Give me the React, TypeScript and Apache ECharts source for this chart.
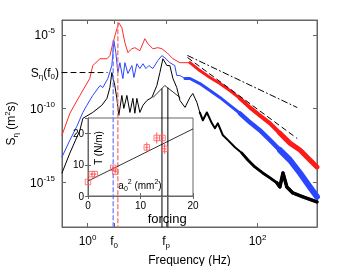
import React, { useEffect, useRef } from "react";
import * as echarts from "echarts";

const FONT = "Liberation Sans, Arial, Helvetica, sans-serif";

// ---- main spectra (frequency in Hz, PSD in m^2 s) ----
const redFreq = [0.5, 0.619, 0.812, 1.06, 1.15, 1.4, 1.69, 1.83, 1.99, 2.21, 2.33, 2.53, 2.75, 2.98, 3.32, 3.6, 4.12, 4.72, 5.12, 5.86, 6.71, 7.48, 8.57, 10.1, 12.2, 16.0, 20.9, 27.5, 36.0, 47.2, 61.9, 81.1, 106, 140, 183, 240, 315, 412, 499];
const redPsd = [1.6e-12, 4.9e-11, 7.9e-10, 1.1e-8, 8.3e-8, 2.4e-7, 2.4e-7, 3.9e-7, 2.9e-6, 2.5e-5, 6.5e-5, 3.0e-5, 2.9e-6, 6.2e-7, 1.14e-6, 1.34e-6, 8.4e-7, 5.4e-6, 2.5e-6, 1.14e-6, 1.34e-6, 1.14e-6, 6.2e-7, 2.4e-7, 1.3e-7, 1.3e-7, 3.8e-8, 1.3e-8, 5.0e-9, 1.7e-9, 5.0e-10, 1.23e-10, 3.55e-11, 1.03e-11, 2.2e-12, 4.7e-13, 1.6e-13, 3.4e-14, 1.15e-14];

const blueFreq = [0.5, 0.619, 0.748, 0.88, 0.98, 1.15, 1.4, 1.51, 1.73, 1.93, 2.04, 2.15, 2.27, 2.4, 2.6, 2.75, 2.98, 3.32, 3.51, 3.8, 4.12, 4.48, 4.85, 5.26, 5.86, 6.71, 7.48, 8.11, 9.29, 10.6, 11.2, 12.2, 14.0, 16.0, 20.9, 27.5, 36.0, 47.2, 61.9, 81.1, 106, 140, 183, 240, 315, 412, 499];
const bluePsd = [5.4e-14, 7.5e-13, 6.5e-12, 5.6e-11, 1.7e-10, 7.9e-10, 3.7e-9, 2.7e-9, 1.1e-8, 8.3e-8, 3.95e-6, 6.2e-7, 2.8e-8, 1.3e-7, 1.1e-8, 1.3e-7, 2.4e-8, 8.3e-8, 1.3e-8, 1.1e-7, 5.2e-8, 1.1e-7, 5.2e-8, 8.3e-8, 5.2e-8, 1.8e-7, 3.9e-7, 2.8e-7, 1.3e-7, 8.3e-8, 1.75e-8, 1.75e-8, 1.1e-8, 1.1e-8, 5.0e-9, 1.7e-9, 5.8e-10, 1.7e-10, 4.9e-11, 1.2e-11, 3.5e-12, 7.5e-13, 1.6e-13, 3.4e-14, 4.5e-15, 5.1e-16, 1.1e-16];

const blackFreq = [0.5, 0.619, 0.812, 0.88, 1.15, 1.47, 1.69, 1.83, 1.93, 2.09, 2.21, 2.33, 2.53, 2.67, 2.9, 3.15, 3.41, 3.6, 3.8, 4.12, 4.48, 4.99, 5.71, 6.53, 7.09, 7.69, 8.57, 9.29, 10.1, 11.2, 12.2, 14.0, 16.0, 17.3, 19.3, 20.9, 22.7, 25.3, 29.0, 31.5, 34.1, 39.1, 44.8, 54.1, 65.3, 76.9, 92.9, 115, 140, 169, 183, 199, 221, 260, 341, 499];
const blackPsd = [4.5e-15, 1.0e-13, 3.5e-12, 2.24e-11, 5.6e-11, 1.7e-10, 5.0e-10, 2.7e-9, 2.8e-8, 3.7e-9, 5.0e-10, 3.55e-11, 7.9e-10, 1.05e-10, 7.9e-10, 5.6e-11, 5.0e-10, 4.9e-11, 5.0e-10, 5.6e-11, 1.7e-10, 3.6e-10, 5.8e-10, 3.7e-9, 2.8e-8, 2.4e-7, 8.3e-8, 8.3e-8, 1.1e-8, 2.7e-9, 3.6e-10, 1.23e-10, 5.8e-10, 1.07e-9, 2.7e-10, 5.6e-11, 1.65e-11, 5.6e-11, 1.03e-11, 4.8e-12, 1.03e-11, 1.6e-12, 7.5e-13, 2.5e-13, 1.0e-13, 3.4e-14, 1.15e-14, 4.5e-15, 2.1e-15, 9.6e-16, 5.1e-16, 4.5e-15, 5.1e-16, 2.0e-16, 1.1e-16, 5.0e-17];

// ---- reference power laws and markers ----
const dashDotFreq = [15.1, 290];
const dashDotPsd = [3.9e-7, 1.23e-10];
const dashFreq = [15.1, 290];
const dashPsd = [2.8e-7, 1.0e-12];

const sEtaF0 = 2.8e-8;
const sEtaLineFreq = [0.5, 1.7];
const F0 = 2.05;
const FP = 8.4;
const blueDash = { f: 2.0, top: 3.95e-6 };
const redDash = { f: 2.27, top: 6.5e-5 };
const forcingFreq = [7.5, 8.8];
const forcingTop = [2.2e-9, 2.5e-9];
const tentFreq = [5.9, 8.1, 12.2];
const tentPsd = [5.8e-10, 3.7e-9, 5.8e-10];

const xTickValues = [1, F0, FP, 100];
const xTickLabels = ["{b|10}{s|0}", "{b|f}{u|0}", "{b|f}{u|p}", "{b|10}{s|2}"];
const yTickValues = [1e-15, 1e-10, 1e-5];

// ---- inset: T (N/m) vs a0^2 (mm^2) ----
const insetA2 = [0, 0.7, 1.3, 4.8, 5.2, 11.2, 13.1, 14.2, 14.6];
const insetT = [4.5, 7.0, 7.0, 9.0, 7.8, 15.6, 18.6, 18.6, 15.1];
const insetA2Err = [0.2, 0.3, 0.3, 0.3, 0.3, 0.3, 0.3, 0.3, 0.3];
const insetTErr = [0.4, 0.4, 0.4, 0.6, 0.6, 1.6, 1.8, 1.8, 1.6];
const fitA2 = [0, 20];
const fitT = [4.8, 21.5];

const pairs = (f: number[], s: number[]) => f.map((v, i) => [v, s[i]]);
const from = (f: number[], s: number[], fmin: number) => pairs(f, s).filter((p) => p[0] >= fmin);

const rich = {
  b: { fontSize: 12, lineHeight: 16, fontFamily: FONT, color: "#000" },
  s: { fontSize: 8, lineHeight: 9, verticalAlign: "top", fontFamily: FONT, color: "#000" },
  u: { fontSize: 8, lineHeight: 9, verticalAlign: "bottom", fontFamily: FONT, color: "#000" },
};
const richSmall = {
  b: { fontSize: 10, lineHeight: 14, fontFamily: FONT, color: "#000" },
  s: { fontSize: 7, lineHeight: 8, verticalAlign: "top", fontFamily: FONT, color: "#000" },
  u: { fontSize: 7, lineHeight: 8, verticalAlign: "bottom", fontFamily: FONT, color: "#000" },
};

const AX = "#666";

function line(data: any[], color: string, width: number, type: any = "solid", extra: any = {}) {
  return {
    type: "line",
    xAxisIndex: 0,
    yAxisIndex: 0,
    data,
    showSymbol: false,
    symbol: "none",
    silent: true,
    lineStyle: { color, width, type, cap: "round", join: "round" },
    ...extra,
  };
}

export default function App() {
  const ref = useRef<HTMLDivElement>(null);
  useEffect(() => {
    const chart = echarts.init(ref.current!, null, { renderer: "svg" });
    const option: any = {
      animation: false,
      textStyle: { fontFamily: FONT },
      grid: [
        { left: 62, top: 20, width: 255, height: 207, show: true, borderColor: AX, borderWidth: 1, containLabel: false, outerBoundsMode: "none" },
        { left: 88, top: 118, width: 105, height: 78, show: true, borderColor: AX, borderWidth: 1, backgroundColor: "#fff", z: 3, outerBoundsMode: "none" },
      ],
      xAxis: [
        {
          type: "log", gridIndex: 0, position: "bottom", min: 0.5, max: 500, logBase: 10,
          axisLine: { show: true, lineStyle: { color: AX } },
          axisTick: { show: true, inside: true, length: 4, lineStyle: { color: AX }, customValues: xTickValues },
          minorTick: { show: false },
          splitLine: { show: false },
          axisLabel: {
            show: true, margin: 6, customValues: xTickValues, rich,
            formatter: (v: number) => {
              const i = xTickValues.findIndex((t) => Math.abs(Math.log10(t) - Math.log10(v)) < 0.01);
              return i >= 0 ? xTickLabels[i] : "";
            },
          },
          name: "Frequency (Hz)", nameLocation: "middle", nameGap: 22,
          nameTextStyle: { fontSize: 12, fontFamily: FONT, color: "#000", verticalAlign: "top" },
        },
        {
          type: "log", gridIndex: 0, position: "top", min: 0.5, max: 500, logBase: 10,
          axisLine: { show: true, lineStyle: { color: AX } },
          axisTick: { show: true, inside: true, length: 4, lineStyle: { color: AX }, customValues: xTickValues },
          axisLabel: { show: false },
          splitLine: { show: false },
        },
        {
          type: "value", gridIndex: 1, position: "bottom", min: 0, max: 20, interval: 10, z: 4,
          axisLine: { show: true, lineStyle: { color: AX } },
          axisTick: { show: true, inside: true, length: 3, lineStyle: { color: AX } },
          axisLabel: { fontSize: 10, color: "#000", margin: 4, fontFamily: FONT },
          splitLine: { show: false },
        },
        {
          type: "value", gridIndex: 1, position: "top", min: 0, max: 20, interval: 10, z: 4,
          axisLine: { show: true, lineStyle: { color: AX } },
          axisTick: { show: true, inside: true, length: 3, lineStyle: { color: AX } },
          axisLabel: { show: false },
          splitLine: { show: false },
        },
      ],
      yAxis: [
        {
          type: "log", gridIndex: 0, position: "left", min: 1e-18, max: 1e-4, logBase: 10,
          axisLine: { show: true, lineStyle: { color: AX } },
          axisTick: { show: true, inside: true, length: 4, lineStyle: { color: AX }, customValues: yTickValues },
          minorTick: { show: false },
          splitLine: { show: false },
          axisLabel: {
            show: true, margin: 7, customValues: yTickValues, rich,
            formatter: (v: number) => `{b|10}{s|${Math.round(Math.log10(v))}}`,
          },
          name: "{b|S}{u|η}{b| (m}{s|2}{b|s)}", nameLocation: "middle", nameGap: 33,
          nameTextStyle: { rich },
        },
        {
          type: "log", gridIndex: 0, position: "right", min: 1e-18, max: 1e-4, logBase: 10,
          axisLine: { show: true, lineStyle: { color: AX } },
          axisTick: { show: true, inside: true, length: 4, lineStyle: { color: AX }, customValues: yTickValues },
          axisLabel: { show: false },
          splitLine: { show: false },
        },
        {
          type: "value", gridIndex: 1, position: "left", min: 0, max: 25, interval: 10, z: 4,
          axisLine: { show: true, lineStyle: { color: AX } },
          axisTick: { show: true, inside: true, length: 3, lineStyle: { color: AX } },
          axisLabel: { fontSize: 10, color: "#000", margin: 4, fontFamily: FONT, showMaxLabel: false,
            formatter: (v: number) => (v % 10 === 0 ? String(v) : "") },
          splitLine: { show: false },
        },
        {
          type: "value", gridIndex: 1, position: "right", min: 0, max: 25, interval: 10, z: 4,
          axisLine: { show: true, lineStyle: { color: AX } },
          axisTick: { show: true, inside: true, length: 3, lineStyle: { color: AX } },
          axisLabel: { show: false },
          splitLine: { show: false },
        },
      ],
      series: [
        line(pairs(tentFreq, tentPsd), "#000", 0.8),
        line([[forcingFreq[0], forcingTop[0]], [forcingFreq[0], 1e-18]], "#000", 1),
        line([[forcingFreq[1], forcingTop[1]], [forcingFreq[1], 1e-18]], "#000", 1),
        line(pairs(blackFreq, blackPsd), "#000", 1),
        line(from(blackFreq, blackPsd, 20), "#000", 2),
        line(from(blackFreq, blackPsd, 60), "#000", 2.8),
        line(from(blackFreq, blackPsd, 150), "#000", 3.5),
        line(pairs(blueFreq, bluePsd), "#2a46ff", 1),
        line(from(blueFreq, bluePsd, 14), "#2a46ff", 3),
        line(from(blueFreq, bluePsd, 60), "#2a46ff", 4.5),
        line(from(blueFreq, bluePsd, 150), "#2a46ff", 6),
        line(pairs(redFreq, redPsd), "#ff2a2a", 1),
        line(from(redFreq, redPsd, 16), "#ff1a1a", 3),
        line(from(redFreq, redPsd, 60), "#ff1a1a", 4),
        line(from(redFreq, redPsd, 150), "#ff1a1a", 5),
        line([[blueDash.f, blueDash.top], [blueDash.f, 1e-18]], "#6f80ff", 1.3, [4, 3]),
        line([[redDash.f, redDash.top], [redDash.f, 1e-18]], "#ff6f6f", 1.3, [4, 3]),
        line(sEtaLineFreq.map((f) => [f, sEtaF0]), "#000", 1, [5, 4]),
        line(pairs(dashDotFreq, dashDotPsd), "#000", 1, [6, 3, 1, 3]),
        line(pairs(dashFreq, dashPsd), "#000", 1, [5, 4]),
        // inset
        {
          type: "line", xAxisIndex: 2, yAxisIndex: 2, z: 5, data: pairs(fitA2, fitT),
          showSymbol: false, symbol: "none", silent: true, lineStyle: { color: "#000", width: 0.8 },
        },
        {
          type: "custom", xAxisIndex: 2, yAxisIndex: 2, z: 6, silent: true,
          data: insetA2.map((a, i) => [a, insetT[i], insetA2Err[i], insetTErr[i]]),
          encode: { x: 0, y: 1 },
          renderItem: (_p: any, api: any) => {
            const x = api.value(0), y = api.value(1), ex = api.value(2), ey = api.value(3);
            const t = api.coord([x, y + ey]), b = api.coord([x, y - ey]);
            const l = api.coord([x - ex, y]), r = api.coord([x + ex, y]);
            const st = { stroke: "#ff5a5a", lineWidth: 1 };
            return {
              type: "group",
              children: [
                { type: "line", shape: { x1: t[0], y1: t[1], x2: b[0], y2: b[1] }, style: st },
                { type: "line", shape: { x1: l[0], y1: l[1], x2: r[0], y2: r[1] }, style: st },
              ],
            };
          },
        },
        {
          type: "scatter", xAxisIndex: 2, yAxisIndex: 2, z: 7, silent: true,
          data: pairs(insetA2, insetT), symbol: "rect", symbolSize: 5.5,
          itemStyle: { color: "rgba(255,255,255,0)", borderColor: "#ff5a5a", borderWidth: 1 },
        },
      ],
    };
    chart.setOption(option);

    const ySeta = chart.convertToPixel({ yAxisIndex: 0 }, sEtaF0) as number;
    const xFp = chart.convertToPixel({ xAxisIndex: 0 }, FP) as number;
    chart.setOption({
      graphic: [
        {
          type: "text", x: 59, y: ySeta, z: 10,
          style: { text: "{b|S}{u|η}{b|(f}{u|0}{b|)}", rich, align: "right", verticalAlign: "middle" },
        },
        {
          type: "text", x: xFp + 1, y: 218, z: 10,
          style: { text: "forcing", fontSize: 13, fontFamily: FONT, fill: "#000", align: "center", verticalAlign: "middle" },
        },
        {
          type: "text", x: 98, y: 148, rotation: Math.PI / 2, z: 10,
          style: { text: "T (N/m)", fontSize: 10, fontFamily: FONT, fill: "#000", align: "center", verticalAlign: "middle" },
        },
        {
          type: "text", x: 140, y: 185, z: 10,
          style: { text: "{b|a}{u|0}{s|2}{b| (mm}{s|2}{b|)}", rich: richSmall, align: "center", verticalAlign: "middle" },
        },
      ],
    });
    return () => chart.dispose();
  }, []);
  return <div ref={ref} style={{ position: "fixed", left: 0, top: 0, width: 351, height: 266 }} />;
}
